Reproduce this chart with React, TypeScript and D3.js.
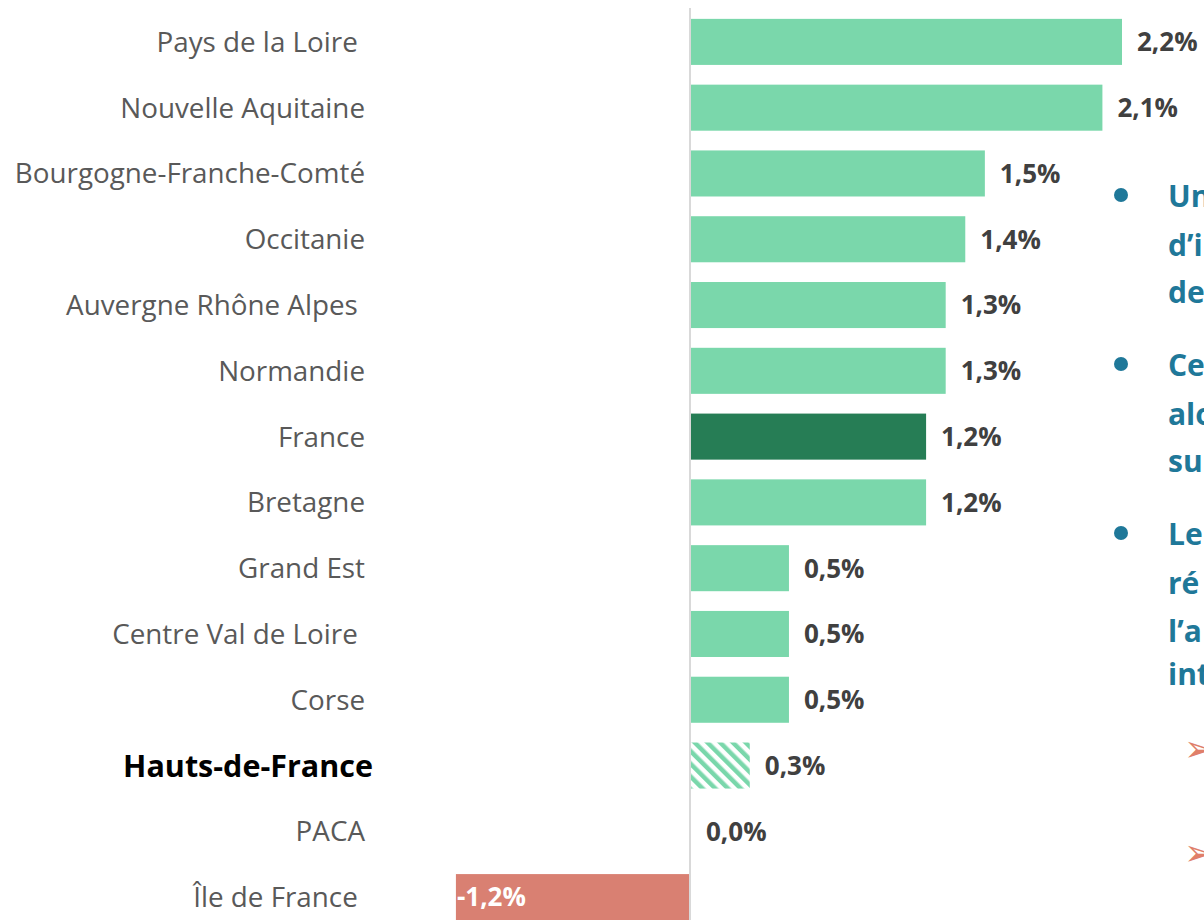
import React, { useEffect, useRef } from "react";
import { scaleBand, scaleLinear, select } from "d3";

// DATA
const regions = [
  "Pays de la Loire ",
  "Nouvelle Aquitaine",
  "Bourgogne-Franche-Comté",
  "Occitanie",
  "Auvergne Rhône Alpes ",
  "Normandie",
  "France",
  "Bretagne",
  "Grand Est",
  "Centre Val de Loire ",
  "Corse",
  "Hauts-de-France",
  "PACA",
  "Île de France ",
];
const values = [2.2, 2.1, 1.5, 1.4, 1.3, 1.3, 1.2, 1.2, 0.5, 0.5, 0.5, 0.3, 0.0, -1.2];
const valueLabels = ["2,2%", "2,1%", "1,5%", "1,4%", "1,3%", "1,3%", "1,2%", "1,2%", "0,5%", "0,5%", "0,5%", "0,3%", "0,0%", "-1,2%"];

const bulletLines = [["Un", "d’i", "de"], ["Ce", "alo", "su"], ["Le", "ré", "l’a", "int"]];

const App = () => {
  const svgRef = useRef<SVGSVGElement>(null);

  const width = 1204;
  const height = 920;

  useEffect(() => {
    document.body.style.margin = "0";
    const svg = select(svgRef.current);
    svg.selectAll("*").remove();

    const font = "'Open Sans', sans-serif";

    // SCALES
    const xScale = scaleLinear().domain([0, 2.2]).range([691, 1122]);
    const yScale = scaleBand()
      .domain(regions)
      .range([9, 930])
      .paddingInner(0.3)
      .paddingOuter(0.15);

    // hatch pattern for Hauts-de-France
    const defs = svg.append("defs");
    const pat = defs
      .append("pattern")
      .attr("id", "hatch")
      .attr("patternUnits", "userSpaceOnUse")
      .attr("width", 9)
      .attr("height", 9)
      .attr("patternTransform", "rotate(-45)");
    pat.append("rect").attr("width", 9).attr("height", 9).attr("fill", "#fff");
    pat.append("rect").attr("width", 4.5).attr("height", 9).attr("fill", "#7AD7AB");

    const fillFor = (r: string, v: number) => {
      if (r === "France") return "#267D55";
      if (r === "Hauts-de-France") return "url(#hatch)";
      if (v < 0) return "#D98072";
      return "#7AD7AB";
    };

    // BARS
    svg
      .selectAll(".bar")
      .data(regions)
      .join("rect")
      .attr("class", "bar")
      .attr("x", (d, i) => xScale(Math.min(0, values[i])))
      .attr("width", (d, i) => Math.abs(xScale(values[i]) - xScale(0)))
      .attr("y", d => yScale(d)!)
      .attr("height", yScale.bandwidth())
      .attr("fill", (d, i) => fillFor(d, values[i]));

    // ZERO LINE
    svg
      .append("line")
      .attr("x1", xScale(0) - 1)
      .attr("x2", xScale(0) - 1)
      .attr("y1", 8)
      .attr("y2", height)
      .attr("stroke", "#D9D9D9")
      .attr("stroke-width", 2);

    // CATEGORY LABELS
    const hdf = "Hauts-de-France";
    svg
      .selectAll(".cat")
      .data(regions)
      .join("text")
      .attr("class", "cat")
      .attr("x", d => (d === hdf ? 373 : 365))
      .attr("y", d => yScale(d)! + yScale.bandwidth() / 2)
      .attr("dy", "0.36em")
      .attr("text-anchor", "end")
      .style("white-space", "pre")
      .attr("font-family", font)
      .attr("font-size", d => (d === hdf ? 30.5 : 27.8))
      .attr("font-weight", d => (d === hdf ? 700 : 400))
      .attr("fill", d => (d === hdf ? "#000" : "#595959"))
      .text(d => d);

    // VALUE LABELS
    svg
      .selectAll(".val")
      .data(regions)
      .join("text")
      .attr("class", "val")
      .attr("x", (d, i) => (values[i] < 0 ? xScale(values[i]) + 1 : xScale(values[i]) + 15))
      .attr("y", d => yScale(d)! + yScale.bandwidth() / 2)
      .attr("dy", "0.36em")
      .attr("font-family", font)
      .attr("font-size", 26)
      .attr("font-weight", 700)
      .attr("fill", (d, i) => (values[i] < 0 ? "#fff" : "#404040"))
      .text((d, i) => valueLabels[i]);

    // SIDE COMMENTARY (clipped at right edge)
    const blue = "#1F7899";
    const bulletY = [196, 365, 534];
    const lineGap = [[0, 49, 96], [0, 49, 96], [0, 49, 97, 140]];
    bulletLines.forEach((lines, b) => {
      svg
        .append("circle")
        .attr("cx", 1121)
        .attr("cy", bulletY[b] - 1)
        .attr("r", 7)
        .attr("fill", blue);
      lines.forEach((t, j) => {
        svg
          .append("text")
          .attr("x", 1168)
          .attr("y", bulletY[b] + lineGap[b][j])
          .attr("dy", "0.36em")
          .attr("font-family", font)
          .attr("font-size", 30)
          .attr("font-weight", 700)
          .attr("fill", blue)
          .text(t);
      });
    });

    [748, 852].forEach(y => {
      svg
        .append("text")
        .attr("x", 1184)
        .attr("y", y)
        .attr("dy", "0.36em")
        .attr("font-family", "'DejaVu Sans', sans-serif")
        .attr("font-size", 36)
        .attr("fill", "#E07F6A")
        .text("➢");
    });
  }, []);

  return (
    <svg ref={svgRef} width={width} height={height} style={{ display: "block", background: "#fff" }} />
  );
};

export default App;
